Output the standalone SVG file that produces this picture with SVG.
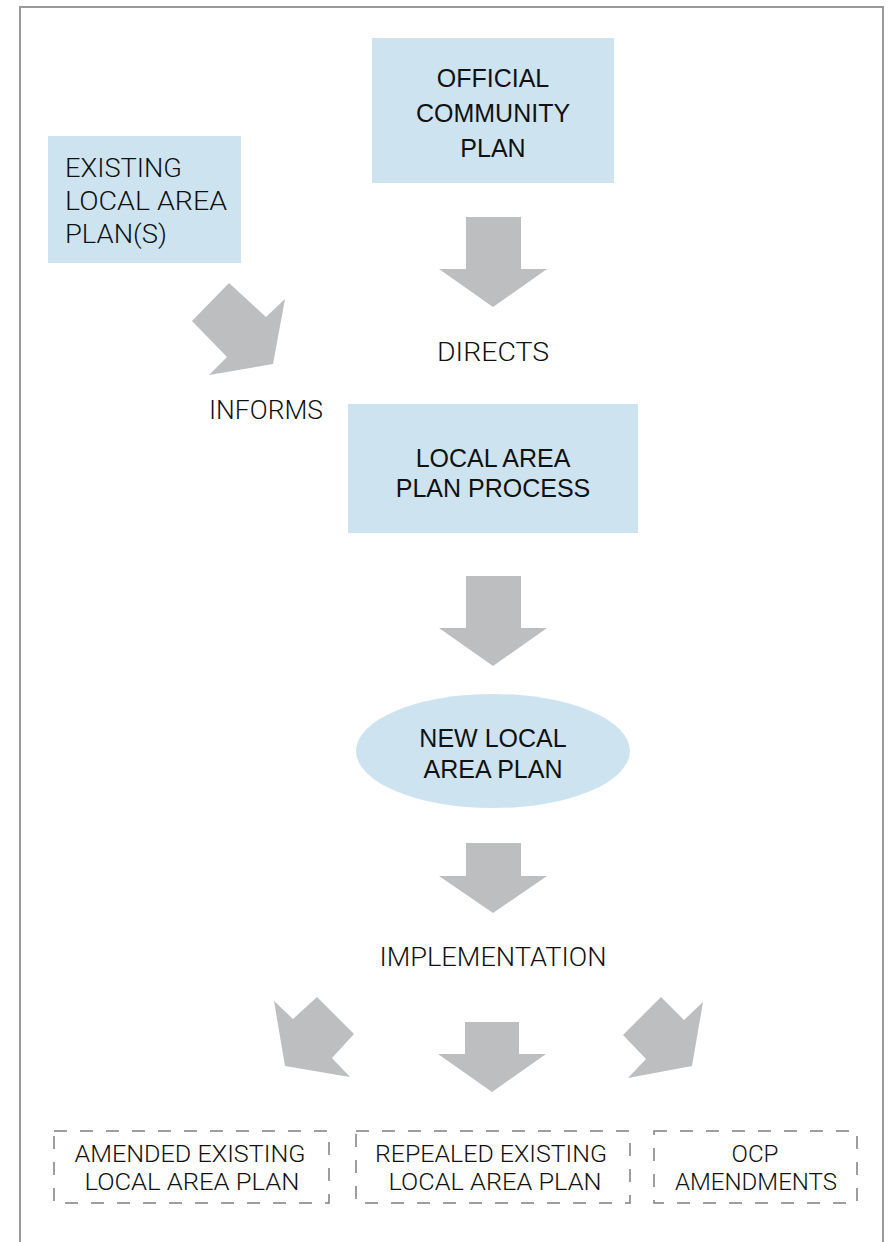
<svg xmlns="http://www.w3.org/2000/svg" width="890" height="1242" viewBox="0 0 890 1242">
<style>
.fill{fill:#cde4f0;stroke:none}
.dash{fill:none;stroke:#7f7f7f;stroke-width:1.5;stroke-dasharray:13 13}
.arrow{fill:#bcbec0;stroke:none}
.t{font-family:"Liberation Sans",Arial,sans-serif;font-size:25px;fill:#111;text-anchor:middle}
.l{font-family:Roboto,"Liberation Sans",Arial,sans-serif;font-weight:300;font-size:25px;fill:#111;text-anchor:middle}
.tl{font-family:Roboto,"Liberation Sans",Arial,sans-serif;font-weight:300;font-size:25px;fill:#111}
.s{font-family:Roboto,"Liberation Sans",Arial,sans-serif;font-weight:300;font-size:23.5px;fill:#111;text-anchor:middle}
</style>
<rect width="890" height="1242" fill="#fff"/>
<path d="M20,1250 V7 H883 V1250" fill="none" stroke="#999" stroke-width="2"/>

<g id="ocp">
<rect class="fill" x="372" y="38" width="242" height="145"/>
<text class="t" x="493" y="87">OFFICIAL</text>
<text class="t" x="493" y="122">COMMUNITY</text>
<text class="t" x="493" y="157">PLAN</text>
</g>

<g id="existing">
<rect class="fill" x="48" y="136" width="193" height="127"/>
<text class="tl" x="65" y="177" textLength="117" lengthAdjust="spacingAndGlyphs">EXISTING</text>
<text class="tl" x="65" y="210" textLength="162" lengthAdjust="spacingAndGlyphs">LOCAL AREA</text>
<text class="tl" x="65" y="243" textLength="102" lengthAdjust="spacingAndGlyphs">PLAN(S)</text>
</g>

<g id="process">
<rect class="fill" x="348" y="404" width="290" height="129"/>
<text class="t" x="493" y="467">LOCAL AREA</text>
<text class="t" x="493" y="497">PLAN PROCESS</text>
</g>

<g id="newplan">
<ellipse class="fill" cx="493" cy="751" rx="137" ry="57"/>
<text class="t" x="493" y="747">NEW LOCAL</text>
<text class="t" x="493" y="778">AREA PLAN</text>
</g>

<g id="amended">
<rect class="dash" x="54" y="1131" width="275" height="72"/>
<text class="s" x="190" y="1162" textLength="231" lengthAdjust="spacingAndGlyphs">AMENDED EXISTING</text>
<text class="s" x="192" y="1190" textLength="215" lengthAdjust="spacingAndGlyphs">LOCAL AREA PLAN</text>
</g>

<g id="repealed">
<rect class="dash" x="356" y="1131" width="274" height="72"/>
<text class="s" x="491" y="1162" textLength="232" lengthAdjust="spacingAndGlyphs">REPEALED EXISTING</text>
<text class="s" x="495" y="1190" textLength="213" lengthAdjust="spacingAndGlyphs">LOCAL AREA PLAN</text>
</g>

<g id="ocpamend">
<rect class="dash" x="654" y="1131" width="203" height="72"/>
<text class="s" x="755" y="1162" textLength="47" lengthAdjust="spacingAndGlyphs">OCP</text>
<text class="s" x="756" y="1190" textLength="162" lengthAdjust="spacingAndGlyphs">AMENDMENTS</text>
</g>

<g id="connectors">
<polygon class="arrow" points="466,217 521,217 521,269 547,269 493,307 439,269 466,269"/>
<text class="l" x="493" y="361" textLength="112" lengthAdjust="spacingAndGlyphs">DIRECTS</text>
<polygon class="arrow" points="229,283 266,317 285,299 273,364 209,375 227,357 192,321"/>
<text class="l" x="266" y="419" textLength="114" lengthAdjust="spacingAndGlyphs">INFORMS</text>
<polygon class="arrow" points="466,576 521,576 521,628 547,628 493,666 439,628 466,628"/>
<polygon class="arrow" points="466,843 521,843 521,876 547,876 493,913 439,876 466,876"/>
<text class="l" x="493" y="966" textLength="227" lengthAdjust="spacingAndGlyphs">IMPLEMENTATION</text>
<polygon class="arrow" points="274,1001 293,1019 317,997 354,1034 332,1058 350,1077 285,1066"/>
<polygon class="arrow" points="465,1022 519,1022 519,1054 546,1054 492,1092 438,1054 465,1054"/>
<polygon class="arrow" points="661,997 684,1020 703,1002 692,1066 628,1078 646,1059 623,1035"/>
</g>
</svg>
